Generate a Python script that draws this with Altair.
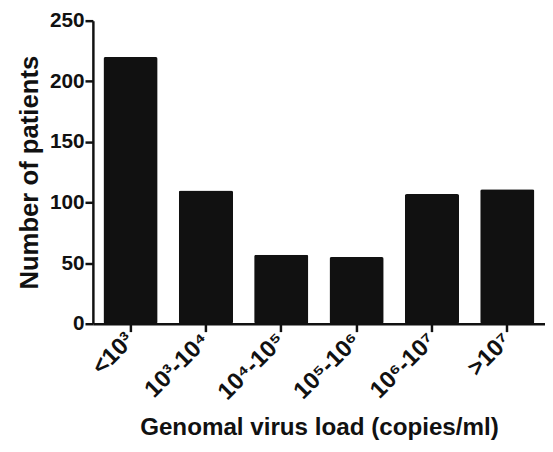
import altair as alt
import pandas as pd

categories = ["<10³", "10³-10⁴", "10⁴-10⁵", "10⁵-10⁶", "10⁶-10⁷", ">10⁷"]
patients = [220, 110, 57, 55, 107, 111]

df = pd.DataFrame({"cat": categories, "n": patients})

FONT = "Liberation Sans"

chart = alt.Chart(df).mark_bar(color="#111111", cornerRadius=2).encode(
    x=alt.X("cat:N", sort=categories,
            scale=alt.Scale(paddingInner=0.28, paddingOuter=0.14),
            axis=alt.Axis(title="Genomal virus load (copies/ml)", labelAngle=-45,
                          labelAlign="right", labelBaseline="middle",
                          labelFont=FONT, labelFontSize=24, labelFontWeight="bold",
                          labelColor="#111", labelPadding=5,
                          titleFont=FONT, titleFontSize=24.5, titleFontWeight="bold",
                          titleColor="#111", titlePadding=12,
                          domainColor="#111", domainWidth=2.5,
                          tickColor="#111", tickWidth=2.5, tickSize=8)),
    y=alt.Y("n:Q", scale=alt.Scale(domain=[0, 250], nice=False),
            axis=alt.Axis(title="Number of patients", values=[0, 50, 100, 150, 200, 250],
                          grid=False,
                          labelFont=FONT, labelFontSize=21, labelFontWeight="bold",
                          labelColor="#111", labelPadding=1,
                          titleFont=FONT, titleFontSize=26, titleFontWeight="bold",
                          titleColor="#111", titlePadding=7,
                          domainColor="#111", domainWidth=2.5,
                          tickColor="#111", tickWidth=2.5, tickSize=8)),
).properties(
    width=458, height=307,
    autosize=alt.AutoSizeParams(type="none"),
    padding={"left": 86, "top": 10, "right": 0, "bottom": 119},
).configure_view(stroke=None)

chart.save("out.html", embed_options={"renderer": "svg", "actions": False})
